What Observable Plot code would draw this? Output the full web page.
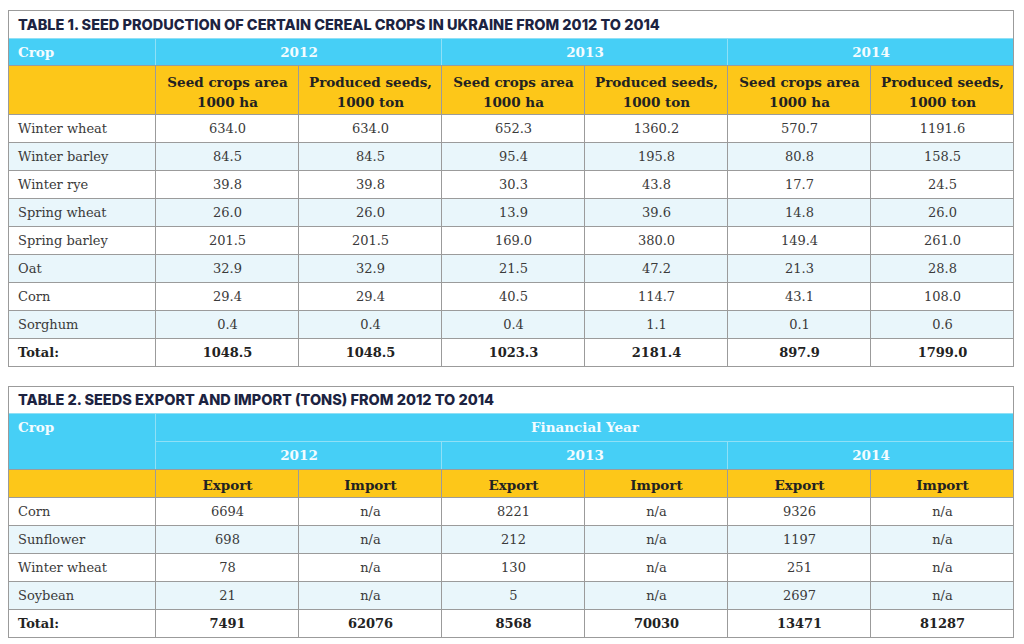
<!DOCTYPE html>
<html><head><meta charset="utf-8">
<script src="https://cdn.jsdelivr.net/npm/d3@7"></script>
<script src="https://cdn.jsdelivr.net/npm/@observablehq/plot@0.6"></script>
<style>html,body{margin:0;padding:0;background:#fff}</style>
</head><body><div id="chart"></div>
<script>
// ---------- data ----------
const title1 = "TABLE 1. SEED PRODUCTION OF CERTAIN CEREAL CROPS IN UKRAINE FROM 2012 TO 2014";
const title2 = "TABLE 2. SEEDS EXPORT AND IMPORT (TONS) FROM 2012 TO 2014";
const cropHeader = "Crop";
const years = ["2012", "2013", "2014"];
const subHeads1 = ["Seed crops area\n1000 ha", "Produced seeds,\n1000 ton"];
const groupHeader2 = "Financial Year";
const subHeads2 = ["Export", "Import"];
const totalLabel = "Total:";

const crops1 = ["Winter wheat", "Winter barley", "Winter rye", "Spring wheat", "Spring barley", "Oat", "Corn", "Sorghum"];
const area2012 = [634.0, 84.5, 39.8, 26.0, 201.5, 32.9, 29.4, 0.4];
const seeds2012 = [634.0, 84.5, 39.8, 26.0, 201.5, 32.9, 29.4, 0.4];
const area2013 = [652.3, 95.4, 30.3, 13.9, 169.0, 21.5, 40.5, 0.4];
const seeds2013 = [1360.2, 195.8, 43.8, 39.6, 380.0, 47.2, 114.7, 1.1];
const area2014 = [570.7, 80.8, 17.7, 14.8, 149.4, 21.3, 43.1, 0.1];
const seeds2014 = [1191.6, 158.5, 24.5, 26.0, 261.0, 28.8, 108.0, 0.6];
const totals1 = [1048.5, 1048.5, 1023.3, 2181.4, 897.9, 1799.0];

const crops2 = ["Corn", "Sunflower", "Winter wheat", "Soybean"];
const export2012 = [6694, 698, 78, 21];
const export2013 = [8221, 212, 130, 5];
const export2014 = [9326, 1197, 251, 2697];
const importNA = "n/a";
const totals2 = [7491, 62076, 8568, 70030, 13471, 81287];

// ---------- styles ----------
const BLUE = "#46cff6", YELLOW = "#fdc719", STRIPE = "#e9f6fb", WHITE = "#ffffff";
const GRID = "#9b9b9b", BLUELINE = "#8fe0f6";
const NAVY = "#1c2341", BODY = "#3a3a3a", BOLD = "#222222";
const SERIF = "DejaVu Serif";

// ---------- layout (row heights) ----------
const cells = [];
function cell(c1, c2, y1, y2, o) { cells.push({c1, c2, y1, y2, fill: WHITE, text: "", kind: "body", anchor: "middle", ...o}); }
const fmt1 = v => v.toFixed(1);

// Table 1
let y = 10;
const t1top = y;
cell(0, 7, y, y + 28, {fill: WHITE, text: title1, kind: "title", anchor: "start"}); y += 28;
cell(0, 1, y, y + 27, {fill: BLUE, text: cropHeader, kind: "head", anchor: "start"});
years.forEach((yr, i) => cell(1 + 2 * i, 3 + 2 * i, y, y + 27, {fill: BLUE, text: yr, kind: "head"}));
y += 27;
cell(0, 1, y, y + 49, {fill: YELLOW});
years.forEach((yr, i) => subHeads1.forEach((s, j) => cell(1 + 2 * i + j, 2 + 2 * i + j, y, y + 49, {fill: YELLOW, text: s, kind: "sub"})));
y += 49;
const vals1 = [area2012, seeds2012, area2013, seeds2013, area2014, seeds2014];
crops1.forEach((c, r) => {
  const f = r % 2 ? STRIPE : WHITE;
  cell(0, 1, y, y + 28, {fill: f, text: c, anchor: "start"});
  vals1.forEach((col, k) => cell(1 + k, 2 + k, y, y + 28, {fill: f, text: fmt1(col[r])}));
  y += 28;
});
cell(0, 1, y, y + 28, {text: totalLabel, kind: "total", anchor: "start"});
totals1.forEach((v, k) => cell(1 + k, 2 + k, y, y + 28, {text: fmt1(v), kind: "total"}));
y += 28;
const t1bot = y;

// Table 2
y += 20;
const t2top = y;
cell(0, 7, y, y + 27, {fill: WHITE, text: title2, kind: "title", anchor: "start"}); y += 27;
cell(0, 1, y, y + 56, {fill: BLUE, text: cropHeader, kind: "head", anchor: "start", ty: y + 14});
cell(1, 7, y, y + 28, {fill: BLUE, text: groupHeader2, kind: "head"}); y += 28;
years.forEach((yr, i) => cell(1 + 2 * i, 3 + 2 * i, y, y + 28, {fill: BLUE, text: yr, kind: "head"}));
y += 28;
cell(0, 1, y, y + 28, {fill: YELLOW});
years.forEach((yr, i) => subHeads2.forEach((s, j) => cell(1 + 2 * i + j, 2 + 2 * i + j, y, y + 28, {fill: YELLOW, text: s, kind: "sub"})));
y += 28;
const exp2 = [export2012, export2013, export2014];
crops2.forEach((c, r) => {
  const f = r % 2 ? STRIPE : WHITE;
  cell(0, 1, y, y + 28, {fill: f, text: c, anchor: "start"});
  exp2.forEach((col, i) => {
    cell(1 + 2 * i, 2 + 2 * i, y, y + 28, {fill: f, text: String(col[r])});
    cell(2 + 2 * i, 3 + 2 * i, y, y + 28, {fill: f, text: importNA});
  });
  y += 28;
});
cell(0, 1, y, y + 28, {text: totalLabel, kind: "total", anchor: "start"});
totals2.forEach((v, k) => cell(1 + k, 2 + k, y, y + 28, {text: String(v), kind: "total"}));
y += 28;
const t2bot = y;

const frames = [{y1: t1top, y2: t1bot}, {y1: t2top, y2: t2bot}];
cells.forEach(d => { d.cx = d.anchor === "start" ? d.c1 : (d.c1 + d.c2) / 2; d.cy = d.ty ?? (d.y1 + d.y2) / 2; });

const isBlue = d => d.fill === BLUE;
const textOf = (kind, anchor) => cells.filter(d => d.text && d.kind === kind && d.anchor === anchor);
const common = (anchor) => ({x: "cx", y: "cy", text: "text", textAnchor: anchor, dx: anchor === "start" ? 9 : 0});

const chart = Plot.plot({
  width: 1024, height: 644, margin: 0,
  x: {type: "linear", domain: [0, 1, 7], range: [8.5, 155.5, 1013.5], axis: null},
  y: {type: "linear", domain: [0, 644], range: [0.5, 644.5], axis: null},
  color: {type: "identity"},
  style: {background: "#fff"},
  marks: [
    Plot.rect(cells, {x1: "c1", x2: "c2", y1: "y1", y2: "y2", fill: "fill"}),
    Plot.rect(cells.filter(isBlue), {x1: "c1", x2: "c2", y1: "y1", y2: "y2", stroke: BLUELINE, strokeWidth: 1, fill: "none"}),
    Plot.rect(cells.filter(d => !isBlue(d) && d.kind !== "title"), {x1: "c1", x2: "c2", y1: "y1", y2: "y2", stroke: GRID, strokeWidth: 1, fill: "none"}),
    Plot.rect(frames, {x1: 0, x2: 7, y1: "y1", y2: "y2", stroke: GRID, strokeWidth: 1, fill: "none"}),
    Plot.text(textOf("title", "start"), {...common("start"), fill: NAVY, fontFamily: "Inter", fontWeight: 800, fontSize: 14.5}),
    Plot.text(textOf("head", "start"), {...common("start"), fill: "#f4fcff", fontFamily: SERIF, fontWeight: 700, fontSize: 13.5}),
    Plot.text(textOf("head", "middle"), {...common("middle"), fill: "#f4fcff", fontFamily: SERIF, fontWeight: 700, fontSize: 13.5}),
    Plot.text(textOf("sub", "middle"), {...common("middle"), fill: BOLD, fontFamily: SERIF, fontWeight: 700, fontSize: 13.5, lineHeight: 1.5}),
    Plot.text(textOf("body", "start"), {...common("start"), fill: BODY, fontFamily: SERIF, fontSize: 13}),
    Plot.text(textOf("body", "middle"), {...common("middle"), fill: BODY, fontFamily: SERIF, fontSize: 13}),
    Plot.text(textOf("total", "start"), {...common("start"), fill: BOLD, fontFamily: SERIF, fontWeight: 700, fontSize: 13}),
    Plot.text(textOf("total", "middle"), {...common("middle"), fill: BOLD, fontFamily: SERIF, fontWeight: 700, fontSize: 13})
  ]
});
document.getElementById("chart").appendChild(chart);
</script>
</body></html>
